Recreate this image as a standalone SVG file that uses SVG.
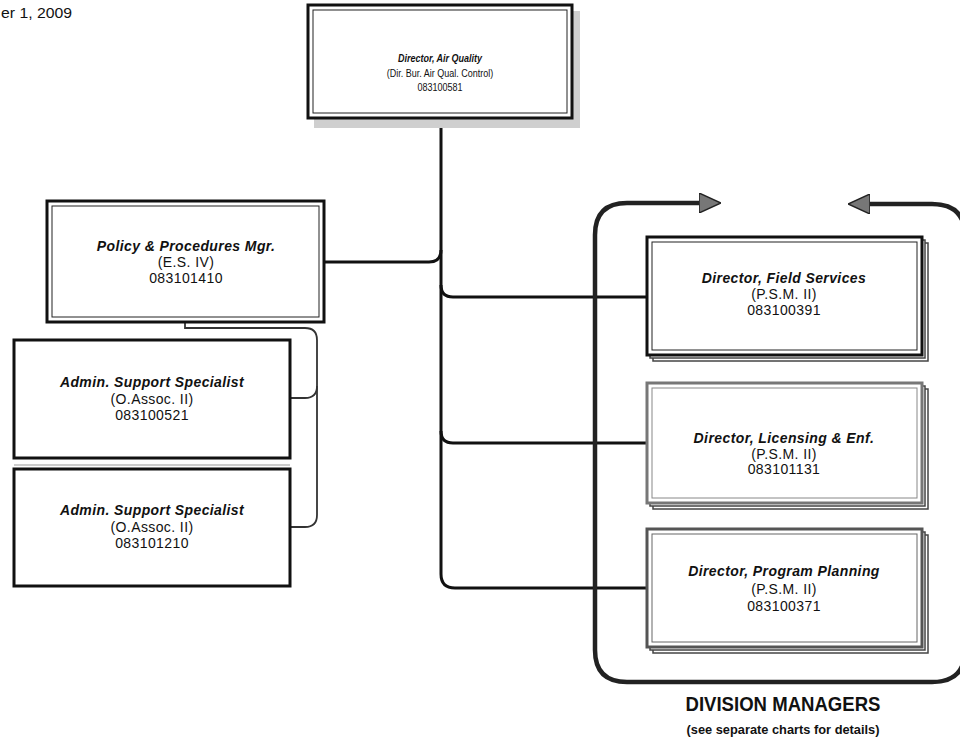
<svg xmlns="http://www.w3.org/2000/svg" width="960" height="742" viewBox="0 0 960 742">
<style>
text{font-family:"Liberation Sans",Arial,sans-serif;font-size:9px;fill:#111;text-anchor:middle}
.b{font-size:14px;letter-spacing:0.4px}
.t{font-weight:bold;font-style:italic}
.outer{fill:#fff;stroke:#111;stroke-width:3}
.inner{fill:none;stroke:#222;stroke-width:1}
.shadow{fill:#cfcfcf}
.stk{fill:#fff;stroke:#444;stroke-width:1.5}
.conn{fill:none;stroke:#111;stroke-width:3}
.thin{fill:none;stroke:#333;stroke-width:1.8}
.brk{fill:none;stroke:#222;stroke-width:4.5}
.grey{fill:#fff;stroke:#777;stroke-width:3}
</style>
<defs>
<marker id="ah" viewBox="0 0 22 20" refX="1" refY="10" markerWidth="22" markerHeight="20" markerUnits="userSpaceOnUse" orient="auto-start-reverse">
<path d="M0,0 L22,10 L0,20 Z" fill="#777" stroke="#222" stroke-width="1.5"/>
</marker>
</defs>
<rect width="960" height="742" fill="#fff"/>
<text x="1" y="18" textLength="71" lengthAdjust="spacingAndGlyphs" style="font-size:15px;text-anchor:start">er 1, 2009</text>

<g id="connectors">
<path class="conn" d="M441,120 V574 Q441,588 455,588 H647"/>
<path class="conn" d="M324,262 H429 Q441,262 441,250"/>
<path class="conn" d="M441,285 Q441,297 453,297 H647"/>
<path class="conn" d="M441,431 Q441,443 453,443 H647"/>
<path class="thin" d="M185,322 V328 H305 Q317,328 317,340 V386 Q317,398 305,398 H290"/>
<path class="thin" d="M317,386 V515 Q317,527 305,527 H290"/>
<path class="brk" d="M700,203 H627 Q595,203 595,235 V650 Q595,682 627,682 H932 Q965,682 965,650 V236 Q965,204 932,204 H869" marker-start="url(#ah)" marker-end="url(#ah)"/>
</g>

<g id="director-air-quality">
<rect class="shadow" x="314" y="11" width="266" height="117"/>
<rect class="outer" x="308" y="5" width="264" height="113"/>
<rect class="inner" x="313" y="10" width="254" height="103"/>
<text class="t" transform="translate(440,62) scale(1,1.22)">Director, Air Quality</text>
<text transform="translate(440,77) scale(1,1.22)">(Dir. Bur. Air Qual. Control)</text>
<text transform="translate(440,91) scale(1,1.22)">083100581</text>
</g>

<g id="policy-procedures-mgr">
<rect class="outer" x="47" y="201" width="277" height="121"/>
<rect class="inner" x="52" y="206" width="267" height="111"/>
<text class="b t" x="186" y="251">Policy &amp; Procedures Mgr.</text>
<text class="b" x="186" y="267">(E.S. IV)</text>
<text class="b" x="186" y="283">083101410</text>
</g>

<g id="admin-support-1">
<rect class="outer" x="14" y="340" width="276" height="118"/>
<text class="b t" x="152" y="387">Admin. Support Specialist</text>
<text class="b" x="152" y="404">(O.Assoc. II)</text>
<text class="b" x="152" y="420">083100521</text>
</g>

<g id="admin-support-2">
<line x1="14" y1="465" x2="290" y2="465" stroke="#999" stroke-width="1"/>
<rect class="outer" x="14" y="469" width="276" height="117"/>
<text class="b t" x="152" y="515">Admin. Support Specialist</text>
<text class="b" x="152" y="532">(O.Assoc. II)</text>
<text class="b" x="152" y="548">083101210</text>
</g>

<g id="director-field-services">
<rect class="stk" x="653" y="243" width="275" height="118"/>
<rect class="stk" x="650" y="240" width="275" height="118"/>
<rect class="outer" x="647" y="237" width="275" height="118"/>
<rect class="inner" x="652" y="242" width="265" height="108"/>
<text class="b t" x="784" y="283">Director, Field Services</text>
<text class="b" x="784" y="299">(P.S.M. II)</text>
<text class="b" x="784" y="315">083100391</text>
</g>

<g id="director-licensing">
<rect class="stk" x="653" y="389" width="275" height="120"/>
<rect class="stk" x="650" y="386" width="275" height="120"/>
<rect class="grey" x="647" y="383" width="275" height="120"/>
<rect class="inner" x="652" y="388" width="265" height="110" style="stroke:#888"/>
<text class="b t" x="784" y="443">Director, Licensing &amp; Enf.</text>
<text class="b" x="784" y="459">(P.S.M. II)</text>
<text class="b" x="784" y="474">083101131</text>
</g>

<g id="director-program-planning">
<rect class="stk" x="653" y="535" width="275" height="118"/>
<rect class="stk" x="650" y="532" width="275" height="118"/>
<rect class="grey" x="647" y="529" width="275" height="118" style="stroke:#555"/>
<rect class="inner" x="652" y="534" width="265" height="108" style="stroke:#666"/>
<text class="b t" x="784" y="576">Director, Program Planning</text>
<text class="b" x="784" y="594">(P.S.M. II)</text>
<text class="b" x="784" y="611">083100371</text>
</g>

<g id="division-managers-label">
<text x="783" y="711" textLength="195" lengthAdjust="spacingAndGlyphs" style="font-size:21px;font-weight:bold">DIVISION MANAGERS</text>
<text x="783" y="734" textLength="193" lengthAdjust="spacingAndGlyphs" style="font-size:13px;font-weight:bold">(see separate charts for details)</text>
</g>
</svg>
